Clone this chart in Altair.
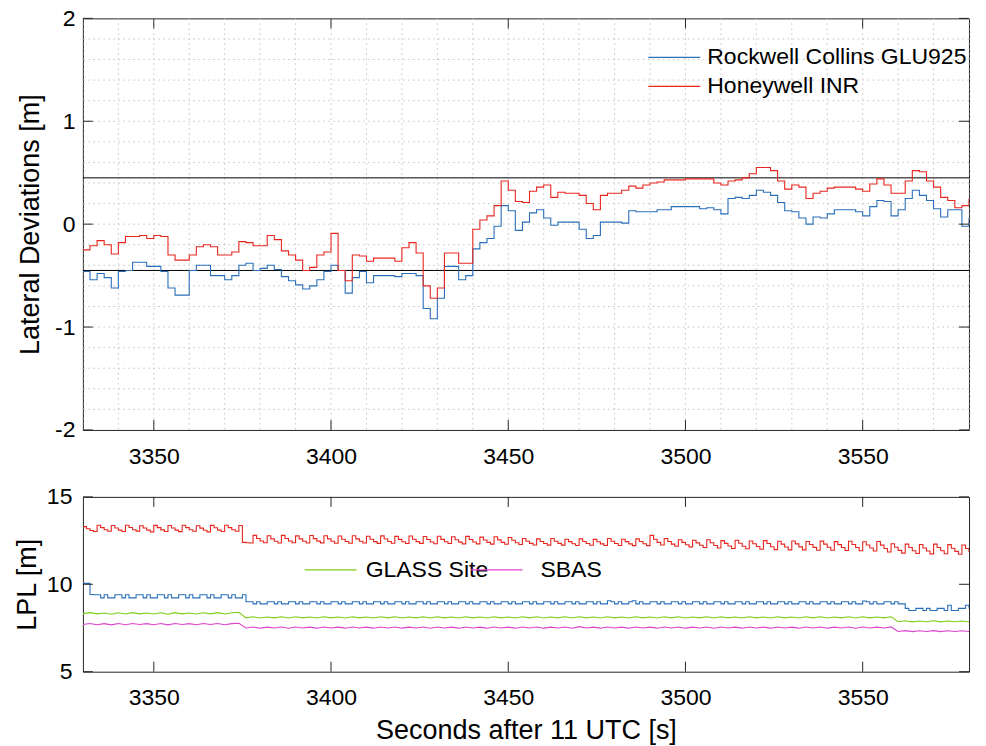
import altair as alt
import pandas as pd

FONT = "Liberation Sans"
BLUE = "#2a6fba"
RED = "#e8261e"
GREEN = "#7ccf1a"
MAGENTA = "#dd44cc"

# ---------------- top panel data (2 s steps) ----------------
t_top = list(range(3330, 3581, 2))
honeywell_top = [
    -0.25, -0.21, -0.16, -0.20, -0.29, -0.18, -0.12, -0.12, -0.11, -0.14,
    -0.11, -0.12, -0.30, -0.35, -0.35, -0.30, -0.22, -0.20, -0.22, -0.30,
    -0.30, -0.27, -0.17, -0.18, -0.21, -0.21, -0.11, -0.15, -0.26, -0.30,
    -0.35, -0.45, -0.42, -0.30, -0.27, -0.09, -0.45, -0.55, -0.30, -0.31,
    -0.36, -0.33, -0.33, -0.33, -0.36, -0.23, -0.18, -0.28, -0.60, -0.72,
    -0.62, -0.28, -0.28, -0.38, -0.38, -0.05, 0.04, 0.08, 0.18, 0.42,
    0.33, 0.22, 0.21, 0.32, 0.36, 0.38, 0.26, 0.31, 0.30, 0.30,
    0.28, 0.20, 0.14, 0.28, 0.30, 0.30, 0.33, 0.37, 0.35, 0.38,
    0.40, 0.41, 0.43, 0.43, 0.43, 0.44, 0.44, 0.44, 0.44, 0.40,
    0.38, 0.42, 0.43, 0.45, 0.49, 0.55, 0.55, 0.52, 0.42, 0.34,
    0.38, 0.36, 0.25, 0.30, 0.32, 0.35, 0.36, 0.36, 0.36, 0.34,
    0.32, 0.39, 0.44, 0.38, 0.30, 0.30, 0.42, 0.52, 0.51, 0.42,
    0.36, 0.26, 0.23, 0.16, 0.18, 0.25,
]
rockwell_top = [
    -0.46, -0.54, -0.48, -0.52, -0.62, -0.46, -0.45, -0.37, -0.37, -0.41,
    -0.41, -0.46, -0.62, -0.69, -0.69, -0.45, -0.40, -0.40, -0.50, -0.50,
    -0.54, -0.50, -0.40, -0.38, -0.45, -0.43, -0.40, -0.44, -0.51, -0.55,
    -0.59, -0.63, -0.60, -0.54, -0.46, -0.40, -0.45, -0.67, -0.52, -0.46,
    -0.57, -0.50, -0.50, -0.50, -0.51, -0.48, -0.48, -0.50, -0.82, -0.92,
    -0.72, -0.41, -0.41, -0.54, -0.50, -0.24, -0.18, -0.14, -0.02, 0.18,
    0.13, -0.06, 0.02, 0.11, 0.14, 0.06, -0.01, 0.02, 0.02, 0.02,
    -0.05, -0.14, -0.11, 0.02, 0.02, 0.02, 0.01, 0.13, 0.12, 0.12,
    0.12, 0.14, 0.14, 0.17, 0.17, 0.17, 0.17, 0.15, 0.16, 0.14,
    0.10, 0.25, 0.26, 0.25, 0.28, 0.33, 0.31, 0.28, 0.21, 0.13,
    0.12, 0.06, 0.00, 0.07, 0.06, 0.10, 0.14, 0.14, 0.14, 0.12,
    0.08, 0.17, 0.23, 0.22, 0.08, 0.14, 0.25, 0.33, 0.28, 0.23,
    0.15, 0.07, 0.14, 0.14, -0.02, 0.06,
]
bounds = [0.45, -0.45]

# ---------------- bottom panel data ----------------
t_bot = list(range(3330, 3581))
honeywell_lpl = [
    13.30, 13.18, 13.08, 13.02,  13.38, 13.24, 13.12, 13.03,  13.36, 13.22, 13.10, 13.02,
    13.38, 13.25, 13.12, 13.04,  13.35, 13.22, 13.10, 13.00,  13.37, 13.24, 13.11, 13.02,
    13.36, 13.22, 13.10, 13.01,  13.38, 13.24, 13.12, 13.03,  13.35, 13.21, 13.09, 13.00,
    13.37, 13.23, 13.10, 13.02,  13.38, 13.24, 13.12, 13.03,  13.36, 12.40, 12.38, 12.36,
    12.80, 12.62, 12.48, 12.38,  12.78, 12.60, 12.46, 12.36,  12.80, 12.62, 12.48, 12.38,
    12.77, 12.60, 12.46, 12.36,  12.79, 12.61, 12.47, 12.37,  12.78, 12.60, 12.46, 12.35,
    12.76, 12.58, 12.45, 12.35,  12.78, 12.60, 12.46, 12.36,  12.75, 12.58, 12.44, 12.34,
    12.77, 12.59, 12.45, 12.35,  12.74, 12.57, 12.43, 12.33,  12.76, 12.58, 12.44, 12.34,
    12.73, 12.56, 12.42, 12.32,  12.75, 12.57, 12.43, 12.33,  12.72, 12.55, 12.41, 12.31,
    12.74, 12.56, 12.42, 12.31,  12.70, 12.53, 12.40, 12.30,  12.72, 12.54, 12.40, 12.29,
    12.68, 12.52, 12.38, 12.28,  12.62, 12.46, 12.34, 12.25,  12.60, 12.45, 12.33, 12.24,
    12.62, 12.46, 12.34, 12.24,  12.58, 12.44, 12.32, 12.22,  12.60, 12.45, 12.33, 12.23,
    12.57, 12.43, 12.31, 12.22,  12.62, 12.46, 12.33, 12.22,  12.58, 12.44, 12.31, 12.21,
    12.60, 12.45, 12.32, 12.21,  12.80, 12.58, 12.40, 12.25,  12.62, 12.45, 12.30, 12.18,
    12.55, 12.40, 12.26, 12.14,  12.52, 12.37, 12.23, 12.10,  12.55, 12.38, 12.22, 12.08,
    12.50, 12.34, 12.19, 12.05,  12.52, 12.35, 12.18, 12.03,  12.48, 12.32, 12.16, 12.00,
    12.50, 12.33, 12.15, 11.98,  12.46, 12.30, 12.13, 11.97,  12.48, 12.31, 12.14, 11.97,
    12.45, 12.28, 12.11, 11.95,  12.47, 12.30, 12.12, 11.95,  12.44, 12.27, 12.10, 11.93,
    12.46, 12.28, 12.10, 11.92,  12.43, 12.25, 12.08, 11.90,  12.45, 12.24, 12.05, 11.85,
    12.32, 12.12, 11.94, 11.78,  12.30, 12.10, 11.92, 11.76,  12.28, 12.08, 11.90, 11.74,
    12.30, 12.10, 11.92, 11.75,  12.27, 12.06, 11.88, 11.72,  12.25, 12.05, 11.85,
]
rockwell_lpl = [
    10.05, 10.05, 9.42,
    9.40, 9.40, 9.22,  9.40, 9.22, 9.22,  9.40, 9.40, 9.22,  9.40, 9.22, 9.22,
    9.40, 9.40, 9.22,  9.40, 9.22, 9.22,  9.40, 9.40, 9.22,  9.40, 9.22, 9.22,
    9.40, 9.40, 9.22,  9.40, 9.22, 9.22,  9.40, 9.40, 9.22,  9.40, 9.22, 9.22,
    9.40, 9.40, 9.22,  9.40, 9.22, 9.22,  9.40,
    9.00, 9.00, 8.88,  9.00, 8.88, 8.88,  9.00, 9.00, 8.88,  9.00, 8.88, 8.88,
    9.00, 9.00, 8.88,  9.00, 8.88, 8.88,  9.00, 9.00, 8.88,  9.00, 8.88, 8.88,
    9.00, 9.00, 8.88,  9.00, 8.88, 8.88,  9.00, 9.00, 8.88,  9.00, 8.88, 8.88,
    9.00, 9.00, 8.88,  9.00, 8.88, 8.88,  9.00, 9.00, 8.88,  9.00, 8.88, 8.88,
    9.00, 9.00, 8.88,  9.00, 8.88, 8.88,  9.00, 9.00, 8.88,  9.00, 8.88, 8.88,
    9.00, 9.00, 8.88,  9.00, 8.88, 8.88,  9.00, 9.00, 8.88,  9.00, 8.88, 8.88,
    9.00, 9.00, 8.88,  9.00, 8.88, 8.88,  9.00, 9.00, 8.88,  9.00, 8.88, 8.88,
    9.00, 9.00, 8.88,  9.00, 8.88, 8.88,  9.00, 9.00, 8.88,  9.00, 8.88, 8.88,
    9.00, 9.00, 8.88,  9.00, 8.88, 8.88,  9.06, 9.00, 8.88,  9.00, 8.88, 8.88,
    9.00, 9.06, 8.88,  9.00, 8.88, 8.88,  9.00, 9.00, 8.88,  9.00, 8.88, 8.88,
    9.00, 9.00, 8.88,  9.00, 8.88, 8.88,  9.00, 9.00, 8.88,  9.00, 8.88, 8.88,
    9.00, 9.00, 8.88,  9.00, 8.88, 8.88,  9.00, 9.00, 8.88,  9.00, 8.88, 8.88,
    9.00, 9.00, 8.88,  9.00, 8.88, 8.88,  9.00, 9.00, 8.88,  9.00, 8.88, 8.88,
    9.00, 9.00, 8.88,  9.00, 8.88, 8.88,  9.00, 9.00, 8.88,  9.00, 8.88, 8.88,
    9.00, 9.00, 8.88,  9.00, 8.88, 8.88,  9.04, 9.00, 8.88,  9.00, 8.88, 8.88,
    9.00, 9.00, 8.88,  9.00, 8.88, 8.88,
    8.62, 8.50, 8.50,  8.62, 8.62, 8.50,  8.62, 8.50, 8.50,  8.62, 8.62, 8.50,
    8.80, 8.50, 8.50,  8.62, 8.62, 8.80,  8.62,
]
t_bot2 = list(range(3330, 3581, 2))
glass_lpl = [
    8.32, 8.38, 8.31, 8.36, 8.29, 8.37, 8.30, 8.38, 8.31, 8.36,
    8.30, 8.37, 8.29, 8.38, 8.31, 8.36, 8.30, 8.37, 8.31, 8.38,
    8.30, 8.37, 8.40,
    8.08, 8.14, 8.07, 8.13, 8.08, 8.14, 8.07, 8.14, 8.08, 8.13,
    8.07, 8.14, 8.08, 8.13, 8.07, 8.14, 8.08, 8.13, 8.07, 8.14,
    8.08, 8.14, 8.07, 8.13, 8.08, 8.14, 8.07, 8.14, 8.08, 8.13,
    8.07, 8.14, 8.08, 8.13, 8.07, 8.14, 8.08, 8.13, 8.07, 8.14,
    8.08, 8.14, 8.07, 8.13, 8.08, 8.14, 8.07, 8.14, 8.08, 8.13,
    8.07, 8.14, 8.08, 8.13, 8.07, 8.14, 8.08, 8.13, 8.07, 8.14,
    8.08, 8.14, 8.07, 8.13, 8.08, 8.14, 8.07, 8.14, 8.08, 8.13,
    8.07, 8.14, 8.08, 8.13, 8.07, 8.14, 8.08, 8.13, 8.07, 8.14,
    8.08, 8.14, 8.07, 8.13, 8.08, 8.14, 8.07, 8.14, 8.08, 8.13,
    8.08, 8.14,
    7.86, 7.91, 7.85, 7.90, 7.86, 7.91, 7.85, 7.90, 7.86, 7.90, 7.86,
]
sbas_lpl = [
    7.70, 7.76, 7.69, 7.75, 7.68, 7.76, 7.69, 7.76, 7.70, 7.75,
    7.69, 7.76, 7.68, 7.76, 7.70, 7.75, 7.69, 7.76, 7.70, 7.76,
    7.69, 7.75, 7.77,
    7.50, 7.56, 7.49, 7.55, 7.50, 7.56, 7.49, 7.56, 7.50, 7.55,
    7.49, 7.56, 7.50, 7.55, 7.49, 7.56, 7.50, 7.55, 7.49, 7.56,
    7.50, 7.56, 7.49, 7.55, 7.50, 7.56, 7.49, 7.56, 7.50, 7.55,
    7.49, 7.56, 7.50, 7.55, 7.49, 7.56, 7.50, 7.55, 7.49, 7.56,
    7.50, 7.56, 7.49, 7.55, 7.50, 7.56, 7.49, 7.58, 7.50, 7.55,
    7.49, 7.56, 7.50, 7.55, 7.49, 7.56, 7.50, 7.55, 7.49, 7.56,
    7.50, 7.56, 7.49, 7.55, 7.50, 7.56, 7.49, 7.56, 7.50, 7.55,
    7.49, 7.56, 7.50, 7.55, 7.49, 7.56, 7.50, 7.55, 7.49, 7.56,
    7.50, 7.56, 7.49, 7.55, 7.50, 7.56, 7.49, 7.56, 7.50, 7.55,
    7.50, 7.56,
    7.30, 7.35, 7.29, 7.34, 7.30, 7.35, 7.29, 7.34, 7.30, 7.34, 7.30,
]

x_ticks = [3350, 3400, 3450, 3500, 3550]
grid_x = list(range(3330, 3581, 10))
top_y_ticks = [-2, -1, 0, 1, 2]
grid_y = [-1.8, -1.6, -1.4, -1.2, -1.0, -0.8, -0.6, -0.4, -0.2, 0.0,
          0.2, 0.4, 0.6, 0.8, 1.0, 1.2, 1.4, 1.6, 1.8]
bot_y_ticks = [5, 10, 15]

LEG_TOP = ["Rockwell Collins GLU925", "Honeywell INR"]
LEG_BOT = ["GLASS Site", "SBAS"]

W = 887
H1 = 412
H2 = 175
TL = 10
XDOM = [3330, 3580]
LABEL_EXPR = "'' + datum.value"

xs = alt.Scale(domain=XDOM, nice=False, zero=False)


def legend(x, y, offset):
    return alt.Legend(title=None, orient="none", legendX=x, legendY=y,
                      symbolType="stroke", symbolSize=2704, symbolStrokeWidth=1.2,
                      labelFontSize=23, labelColor="#000", labelOffset=offset,
                      padding=0, labelLimit=400)


def tick_layers(xvals, yvals, yscale, H):
    xt = pd.DataFrame({"x": xvals})
    yt = pd.DataFrame({"y": yvals})
    base_x = alt.Chart(xt).mark_rule(color="#262626", strokeWidth=1)
    base_y = alt.Chart(yt).mark_rule(color="#262626", strokeWidth=1)
    return [
        base_x.encode(x=alt.X("x:Q", scale=xs), y=alt.value(0), y2=alt.value(TL)),
        base_x.encode(x=alt.X("x:Q", scale=xs), y=alt.value(H - TL), y2=alt.value(H)),
        base_y.encode(y=alt.Y("y:Q", scale=yscale), x=alt.value(0), x2=alt.value(TL)),
        base_y.encode(y=alt.Y("y:Q", scale=yscale), x=alt.value(W - TL), x2=alt.value(W)),
    ]


# ---------------- top panel ----------------
ys1 = alt.Scale(domain=[-2, 2], nice=False, zero=False)

grid_v = alt.Chart(pd.DataFrame({"g": grid_x})).mark_rule(
    color="#c4c4c4", strokeWidth=1, strokeDash=[1.5, 3.5]
).encode(x=alt.X("g:Q", scale=xs,
                 axis=alt.Axis(values=x_ticks, title=None, ticks=False, domain=False, grid=False,
                               labelFontSize=23, labelPadding=16, labelColor="#000",
                               labelExpr=LABEL_EXPR)))
grid_h = alt.Chart(pd.DataFrame({"g": grid_y})).mark_rule(
    color="#c4c4c4", strokeWidth=1, strokeDash=[1.5, 3.5]
).encode(y=alt.Y("g:Q", scale=ys1,
                 axis=alt.Axis(values=top_y_ticks, title="Lateral Deviations [m]", ticks=False,
                               domain=False, grid=False, labelFontSize=23, labelPadding=8,
                               labelColor="#000", labelExpr=LABEL_EXPR, titleFontSize=27,
                               titleFontWeight="normal", titleColor="#000", titlePadding=10)))

rock_top = alt.Chart(pd.DataFrame({"t": t_top, "v": rockwell_top, "s": LEG_TOP[0]})).mark_line(
    interpolate="step-after", strokeWidth=1.1, clip=True
).encode(
    x=alt.X("t:Q", scale=xs), y=alt.Y("v:Q", scale=ys1),
    color=alt.Color("s:N", scale=alt.Scale(domain=[LEG_TOP[0]], range=[BLUE]),
                    legend=legend(565, 12, 6)),
)
honey_top = alt.Chart(pd.DataFrame({"t": t_top, "v": honeywell_top, "s": LEG_TOP[1]})).mark_line(
    interpolate="step-after", strokeWidth=1.1, clip=True
).encode(
    x=alt.X("t:Q", scale=xs), y=alt.Y("v:Q", scale=ys1),
    color=alt.Color("s:N", scale=alt.Scale(domain=[LEG_TOP[1]], range=[RED]),
                    legend=legend(565, 41, 6)),
)

bound_rules = alt.Chart(pd.DataFrame({"b": bounds})).mark_rule(color="#000", strokeWidth=1).encode(
    y=alt.Y("b:Q", scale=ys1)
)

top = alt.layer(
    grid_v, grid_h, bound_rules, rock_top, honey_top,
    *tick_layers(x_ticks, top_y_ticks, ys1, H1)
).resolve_scale(color="independent").properties(width=W, height=H1)

# ---------------- bottom panel ----------------
ys2 = alt.Scale(domain=[5, 15], nice=False, zero=False)
red_bot = alt.Chart(pd.DataFrame({"t": t_bot, "v": honeywell_lpl})).mark_line(
    interpolate="step-after", strokeWidth=1.1, color=RED, clip=True
).encode(
    x=alt.X("t:Q", scale=xs,
            axis=alt.Axis(values=x_ticks, title="Seconds after 11 UTC [s]", ticks=False,
                          domain=False, grid=False, labelFontSize=23, labelPadding=15,
                          labelColor="#000", labelExpr=LABEL_EXPR, titleFontSize=27,
                          titleFontWeight="normal", titleColor="#000", titlePadding=8)),
    y=alt.Y("v:Q", scale=ys2,
            axis=alt.Axis(values=bot_y_ticks, title="LPL [m]", ticks=False, domain=False,
                          grid=False, labelFontSize=23, labelPadding=11, labelColor="#000",
                          labelExpr=LABEL_EXPR, titleFontSize=27, titleFontWeight="normal",
                          titleColor="#000", titlePadding=5)),
)
blue_bot = alt.Chart(pd.DataFrame({"t": t_bot, "v": rockwell_lpl})).mark_line(
    interpolate="step-after", strokeWidth=1.1, color=BLUE, clip=True
).encode(x=alt.X("t:Q", scale=xs), y=alt.Y("v:Q", scale=ys2))

green_bot = alt.Chart(pd.DataFrame({"t": t_bot2, "v": glass_lpl, "s": LEG_BOT[0]})).mark_line(
    strokeWidth=1.1, clip=True
).encode(
    x=alt.X("t:Q", scale=xs), y=alt.Y("v:Q", scale=ys2),
    color=alt.Color("s:N", scale=alt.Scale(domain=[LEG_BOT[0]], range=[GREEN]),
                    legend=legend(221, 46, 8)),
)
mag_bot = alt.Chart(pd.DataFrame({"t": t_bot2, "v": sbas_lpl, "s": LEG_BOT[1]})).mark_line(
    strokeWidth=1.1, clip=True
).encode(
    x=alt.X("t:Q", scale=xs), y=alt.Y("v:Q", scale=ys2),
    color=alt.Color("s:N", scale=alt.Scale(domain=[LEG_BOT[1]], range=[MAGENTA]),
                    legend=legend(387, 46, 17)),
)

bottom = alt.layer(
    red_bot, blue_bot, green_bot, mag_bot,
    *tick_layers(x_ticks, bot_y_ticks, ys2, H2)
).resolve_scale(color="independent").properties(width=W, height=H2)

chart = alt.vconcat(top, bottom, spacing=15).resolve_scale(color="independent").properties(
    padding={"left": 12, "top": 6, "right": 16, "bottom": 5},
    background="white",
).configure(font=FONT).configure_view(stroke="#262626", strokeWidth=1)

chart.save("out.html", embed_options={"renderer": "svg", "actions": False})
